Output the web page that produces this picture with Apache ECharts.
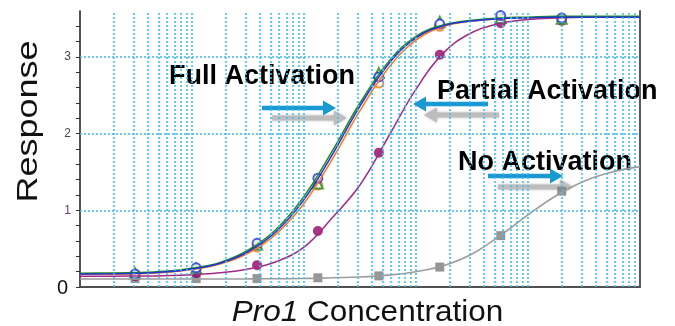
<!DOCTYPE html>
<html>
<head>
<meta charset="utf-8">
<script src="https://cdn.jsdelivr.net/npm/echarts@6/dist/echarts.min.js"></script>
<style>
  html, body { margin: 0; padding: 0; background: #fff; }
  #chart { width: 675px; height: 326px; }
</style>
</head>
<body>
<div id="chart"></div>
<script>
// Pro1 concentrations (nM), 3.5-fold dilution series
const concentrations = [0.031, 0.109, 0.381, 1.33, 4.66, 16.3, 57.1, 200];

// Measured responses
const fullBlue   = [0.17, 0.25, 0.57, 1.42, 2.74, 3.43, 3.54, 3.51];
const fullGreen  = [0.18, 0.24, 0.55, 1.35, 2.79, 3.46, 3.51, 3.50];
const fullOrange = [0.16, 0.23, 0.52, 1.33, 2.66, 3.40, 3.50, 3.49];
const partial    = [0.14, 0.18, 0.285, 0.73, 1.75, 3.03, 3.44, 3.47];
const noActivation = [0.11, 0.11, 0.11, 0.12, 0.145, 0.26, 0.67, 1.25];

// Fitted dose-response curves, sampled every quarter decade (0.01 - 1000 nM)
const fitConcentrations = [0.01, 0.0178, 0.0316, 0.0562, 0.1, 0.178, 0.316, 0.562, 1, 1.78, 3.16, 5.62,
                           10, 17.8, 31.6, 56.2, 100, 178, 316, 562, 1000];
const fitBlue    = [0.17, 0.172, 0.178, 0.195, 0.235, 0.31, 0.46, 0.72, 1.14, 1.72, 2.36, 2.90,
                    3.25, 3.41, 3.47, 3.50, 3.51, 3.52, 3.52, 3.52, 3.52];
const fitGreen   = [0.18, 0.182, 0.188, 0.205, 0.245, 0.32, 0.48, 0.75, 1.18, 1.77, 2.40, 2.93,
                    3.27, 3.42, 3.48, 3.51, 3.52, 3.53, 3.53, 3.53, 3.53];
const fitOrange  = [0.165, 0.167, 0.172, 0.19, 0.228, 0.30, 0.44, 0.69, 1.09, 1.66, 2.30, 2.85,
                    3.22, 3.40, 3.47, 3.50, 3.51, 3.52, 3.52, 3.52, 3.52];
const fitPartial = [0.14, 0.14, 0.143, 0.148, 0.16, 0.185, 0.235, 0.33, 0.52, 0.90, 1.33, 1.95,
                    2.58, 3.06, 3.32, 3.44, 3.49, 3.51, 3.52, 3.52, 3.52];
const fitNone    = [0.105, 0.105, 0.105, 0.105, 0.105, 0.105, 0.106, 0.108, 0.11, 0.12, 0.13, 0.155,
                    0.20, 0.28, 0.43, 0.67, 0.94, 1.19, 1.38, 1.50, 1.57];

// Axis ticks
const yTickLabels = [0, 1, 2, 3];
const gridDecades = [0.01, 0.1, 1, 10, 100];
const gridSteps = [1, 2, 3, 4, 5, 6, 7, 8, 9];

const FONT = '"Liberation Sans", Arial, Helvetica, sans-serif';

const pair = (xs, ys) => xs.map((x, i) => [x, ys[i]]);

const verticalGrid = [];
gridDecades.forEach(d => gridSteps.forEach(s => {
  const v = +(d * s).toPrecision(3);
  if (v > 0.01) verticalGrid.push({ xAxis: v });
}));
const horizontalGrid = yTickLabels.filter(v => v > 0).map(v => ({ yAxis: v }));

// Horizontal annotation arrow as a polygon
function arrow(x0, x1, y, color, shaft, headH, headL, blur) {
  const dir = x1 > x0 ? 1 : -1;
  const xb = x1 - dir * headL;
  return {
    type: 'polygon',
    silent: true,
    shape: {
      points: [
        [x0, y - shaft / 2], [xb, y - shaft / 2], [xb, y - headH / 2], [x1, y],
        [xb, y + headH / 2], [xb, y + shaft / 2], [x0, y + shaft / 2]
      ]
    },
    style: { fill: color, shadowBlur: blur, shadowColor: blur ? color : 'transparent' }
  };
}

function label(text, x, y) {
  return {
    type: 'text', silent: true, x: x, y: y,
    style: {
      text: text, x: 0, y: 0, font: 'bold 27px ' + FONT, fill: '#000',
      align: 'left', verticalAlign: 'middle', textAlign: 'left', textVerticalAlign: 'middle'
    }
  };
}

const BLUE_ARROW = '#1899d2';
const GRAY_ARROW = '#bdbdbd';

const gridLineStyle = { color: '#44bcef', width: 1.6, type: [2, 2] };

const chart = echarts.init(document.getElementById('chart'), null, { renderer: 'canvas' });

chart.setOption({
  animation: false,
  backgroundColor: '#ffffff',
  grid: { left: 80, top: 11, width: 560, height: 276, containLabel: false },
  xAxis: [
    {
      type: 'log', logBase: 10, min: 0.01, max: 1000,
      axisLine: { show: false }, axisTick: { show: false },
      axisLabel: { show: false }, splitLine: { show: false }
    },
    {
      type: 'value', position: 'top', min: 0, max: 1,
      axisLine: { show: true, lineStyle: { color: '#505050', width: 2 } },
      axisTick: { show: false }, axisLabel: { show: false }, splitLine: { show: false }
    }
  ],
  yAxis: [
    {
      type: 'value', min: 0, max: 3.6, interval: 0.2,
      axisLine: { show: true, lineStyle: { color: '#1a1a1a', width: 1.5 } },
      axisTick: { show: true, length: 4, lineStyle: { color: '#333', width: 1 } },
      splitLine: { show: false },
      axisLabel: {
        margin: 9,
        showMaxLabel: false,
        formatter: function (v) {
          if (Math.abs(v - Math.round(v)) > 1e-6) return '';
          const r = Math.round(v);
          if (yTickLabels.indexOf(r) < 0) return '';
          return r === 0 ? '{z|0}' : '{n' + r + '|' + r + '}';
        },
        rich: {
          z: { fontSize: 20, color: '#111', fontFamily: FONT, padding: [2, 3, 0, 0] },
          n1: { fontSize: 12, color: '#6b3a7a', fontFamily: FONT },
          n2: { fontSize: 12, color: '#4a4a4a', fontFamily: FONT },
          n3: { fontSize: 12, color: '#3a4658', fontFamily: FONT }
        }
      }
    },
    {
      type: 'value', position: 'right', min: 0, max: 1,
      axisLine: { show: true, lineStyle: { color: '#5a5a5a', width: 2 } },
      axisTick: { show: false }, axisLabel: { show: false }, splitLine: { show: false }
    }
  ],
  series: [
    {
      // dotted log grid
      type: 'line', data: [], silent: true,
      markLine: {
        silent: true, symbol: ['none', 'none'], label: { show: false },
        emphasis: { disabled: true },
        lineStyle: gridLineStyle,
        data: verticalGrid.concat(horizontalGrid)
      }
    },
    {
      name: 'No Activation fit', type: 'line', data: pair(fitConcentrations, fitNone),
      smooth: 0.4, showSymbol: false, silent: true,
      lineStyle: { color: '#9c9c9c', width: 1.6 }
    },
    {
      name: 'No Activation', type: 'scatter', data: pair(concentrations, noActivation),
      symbol: 'rect', symbolSize: 9, silent: true,
      itemStyle: { color: '#7a7a7a' }
    },
    {
      name: 'Partial Activation fit', type: 'line', data: pair(fitConcentrations, fitPartial),
      smooth: 0.4, showSymbol: false, silent: true,
      lineStyle: { color: '#a12a86', width: 1.5 }
    },
    {
      name: 'Partial Activation', type: 'scatter', data: pair(concentrations, partial),
      symbol: 'circle', symbolSize: 10, silent: true,
      itemStyle: { color: '#8e0660' }
    },
    {
      name: 'Full fit 3', type: 'line', data: pair(fitConcentrations, fitOrange),
      smooth: 0.4, showSymbol: false, silent: true,
      lineStyle: { color: '#ff7a12', width: 1.5 }
    },
    {
      name: 'Full fit 2', type: 'line', data: pair(fitConcentrations, fitGreen),
      smooth: 0.4, showSymbol: false, silent: true,
      lineStyle: { color: '#1d8c1d', width: 1.5 }
    },
    {
      name: 'Full fit 1', type: 'line', data: pair(fitConcentrations, fitBlue),
      smooth: 0.4, showSymbol: false, silent: true,
      lineStyle: { color: '#2233dd', width: 1.5 }
    },
    {
      name: 'Full 3', type: 'scatter', data: pair(concentrations, fullOrange),
      symbol: 'emptyCircle', symbolSize: 9, silent: true,
      itemStyle: { color: '#ff7a12', borderColor: '#ff7a12', borderWidth: 1.5 }
    },
    {
      name: 'Full 2', type: 'scatter', data: pair(concentrations, fullGreen),
      symbol: 'emptyTriangle', symbolSize: 10, silent: true,
      itemStyle: { color: '#1d8c1d', borderColor: '#1d8c1d', borderWidth: 1.5 }
    },
    {
      name: 'Full 1', type: 'scatter', data: pair(concentrations, fullBlue),
      symbol: 'emptyCircle', symbolSize: 9, silent: true,
      itemStyle: { color: '#2233dd', borderColor: '#2233dd', borderWidth: 1.5 }
    }
  ],
  graphic: [
    // axis titles
    {
      type: 'text', silent: true, x: 29, y: 121.5, rotation: Math.PI / 2, scaleX: 1.2,
      style: {
        text: 'Response', x: 0, y: 0, font: '30px ' + FONT, fill: '#111',
        align: 'center', verticalAlign: 'middle', textAlign: 'center', textVerticalAlign: 'middle'
      }
    },
    {
      type: 'text', silent: true, x: 367.5, y: 312.5, scaleX: 1.05,
      style: {
        text: '{i|Pro1} Concentration', x: 0, y: 0, font: '30px ' + FONT, fill: '#111',
        align: 'center', verticalAlign: 'middle', textAlign: 'center', textVerticalAlign: 'middle',
        rich: { i: { fontStyle: 'italic', fontSize: 30, fontFamily: FONT, fill: '#111', color: '#111' } }
      }
    },
    // annotations
    label('Full Activation', 169, 77),
    arrow(272, 347, 118, GRAY_ARROW, 5, 15, 13, 3),
    arrow(262, 336, 108, BLUE_ARROW, 4.5, 15, 13, 0),
    label('Partial Activation', 437, 91.5),
    arrow(499, 424, 115, GRAY_ARROW, 5, 15, 13, 3),
    arrow(488, 413, 104, BLUE_ARROW, 4.5, 15, 13, 0),
    label('No Activation', 458, 162.5),
    arrow(498, 573, 187, GRAY_ARROW, 5, 15, 13, 3),
    arrow(488, 563, 176, BLUE_ARROW, 4.5, 15, 13, 0)
  ]
});
</script>
</body>
</html>
